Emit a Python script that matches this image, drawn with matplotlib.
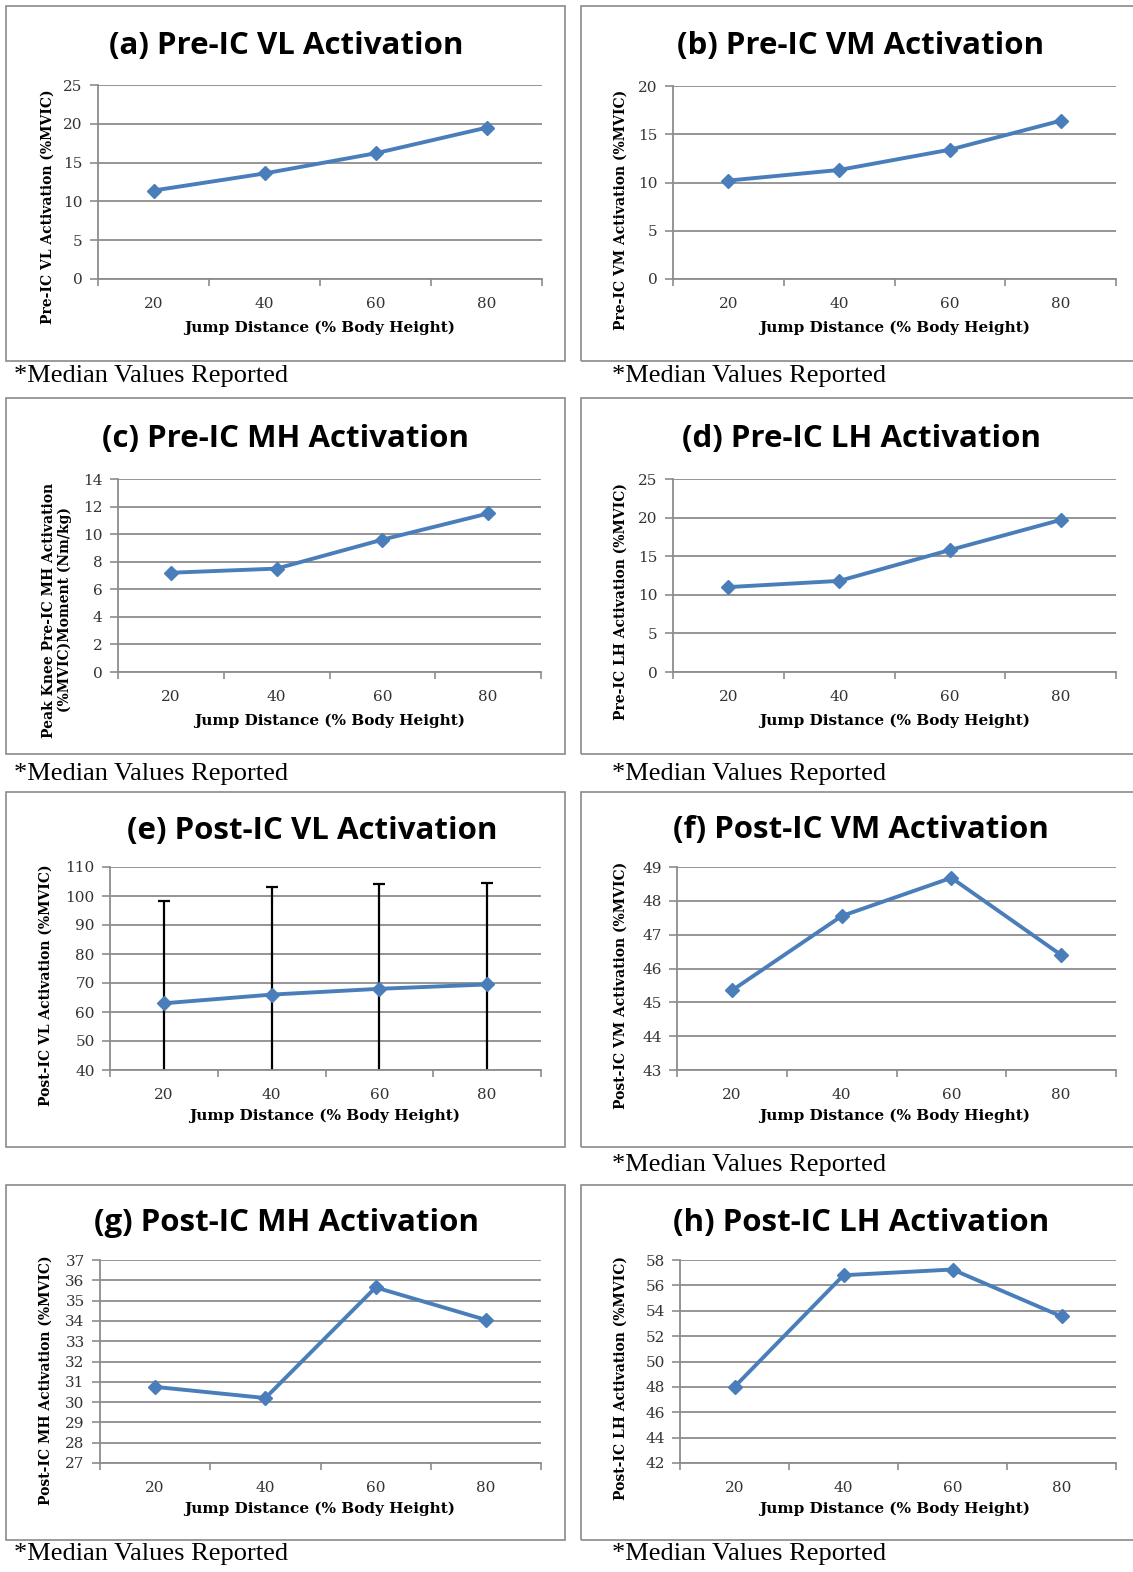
import matplotlib
matplotlib.use("Agg")
import matplotlib.pyplot as plt
from matplotlib.patches import Rectangle
import numpy as np

# ---------------- data ----------------
jump_distance = ["20", "40", "60", "80"]
pre_vl = [11.4, 13.6, 16.2, 19.5]
pre_vm = [10.2, 11.3, 13.4, 16.4]
pre_mh = [7.2, 7.5, 9.6, 11.5]
pre_lh = [11.0, 11.8, 15.8, 19.7]
post_vl = [63.0, 66.0, 68.0, 69.5]
post_vl_err = [35.3, 37.0, 36.0, 35.0]
post_vm = [45.35, 47.55, 48.68, 46.4]
post_mh = [30.75, 30.2, 35.65, 34.05]
post_lh = [48.0, 56.8, 57.25, 53.55]

titles = ["(a) Pre-IC VL Activation", "(b) Pre-IC VM Activation",
          "(c) Pre-IC MH Activation", "(d) Pre-IC LH Activation",
          "(e) Post-IC VL Activation", "(f) Post-IC VM Activation",
          "(g) Post-IC MH Activation", "(h) Post-IC LH Activation"]
ylabels = ["Pre-IC VL Activation (%MVIC)", "Pre-IC VM Activation (%MVIC)",
           "Peak Knee Pre-IC MH Activation\n(%MVIC)Moment (Nm/kg)",
           "Pre-IC LH Activation (%MVIC)",
           "Post-IC VL Activation (%MVIC)", "Post-IC VM Activation (%MVIC)",
           "Post-IC MH Activation (%MVIC)", "Post-IC LH Activation (%MVIC)"]
xlabels = ["Jump Distance (% Body Height)"] * 5 + ["Jump Distance (% Body Hieght)"] + \
          ["Jump Distance (% Body Height)"] * 2
yticks_list = [np.arange(0, 26, 5), np.arange(0, 21, 5), np.arange(0, 15, 2),
               np.arange(0, 26, 5), np.arange(40, 111, 10), np.arange(43, 50, 1),
               np.arange(27, 38, 1), np.arange(42, 59, 2)]
series = [pre_vl, pre_vm, pre_mh, pre_lh, post_vl, post_vm, post_mh, post_lh]
caption = "*Median Values Reported"

# ---------------- layout (pixels) ----------------
W, H = 1133, 1572
fig = plt.figure(figsize=(W / 100, H / 100), dpi=100)
fig.patch.set_facecolor("white")

def fx(x):
    return x / W

def fy(y):
    return 1 - y / H

panels = [
    dict(box=(6, 6, 565, 361), ax=(98, 85, 542, 279), title=(286, 46), yl=(48, 207), xl=(320, 328)),
    dict(box=(581, 6, 1140, 361), ax=(673, 86, 1116, 279), title=(861, 46), yl=(621, 210), xl=(895, 328)),
    dict(box=(6, 398, 565, 754), ax=(118, 479, 541, 672), title=(286, 439), yl=(57, 610), xl=(330, 721)),
    dict(box=(581, 398, 1140, 754), ax=(673, 479, 1116, 672), title=(861, 439), yl=(621, 602), xl=(895, 721)),
    dict(box=(6, 792, 565, 1147), ax=(110, 867, 541, 1070), title=(312, 831), yl=(46, 985), xl=(325, 1116)),
    dict(box=(581, 792, 1140, 1147), ax=(677, 867, 1116, 1070), title=(861, 830), yl=(621, 985), xl=(895, 1116)),
    dict(box=(6, 1185, 565, 1540), ax=(100, 1260, 541, 1463), title=(286, 1223), yl=(46, 1380), xl=(320, 1509)),
    dict(box=(581, 1185, 1140, 1540), ax=(680, 1260, 1116, 1463), title=(861, 1223), yl=(621, 1378), xl=(895, 1509)),
]
captions = [(14, 376), (612, 376), (14, 774), (612, 774), (612, 1165), (14, 1554), (612, 1554)]

line_color = "#4a7ebb"
grid_color = "#8c8c8c"
tick_font = "DejaVu Serif"
label_font = "DejaVu Serif"
title_font = ["Open Sans", "DejaVu Sans"]

for i, p in enumerate(panels):
    x0, y0, x1, y1 = p["box"]
    fig.add_artist(Rectangle((fx(x0), fy(y1)), fx(x1 - x0), (y1 - y0) / H,
                             transform=fig.transFigure, fill=False,
                             edgecolor="#8a8a8a", linewidth=1.2))
    l, t, r, b = p["ax"]
    ax = fig.add_axes([fx(l), fy(b), fx(r - l), (b - t) / H])
    xs = np.arange(len(jump_distance))
    yt = yticks_list[i]
    ax.set_xlim(-0.5, len(jump_distance) - 0.5)
    ax.set_ylim(yt[0], yt[-1])
    ax.set_yticks(yt)
    ax.set_yticklabels([str(v) for v in yt], fontfamily=tick_font, fontsize=11, color="#333333")
    ax.set_xticks(xs)
    ax.set_xticklabels(jump_distance, fontfamily=tick_font, fontsize=11, color="#333333")
    ax.set_xticks(np.arange(-0.5, len(jump_distance), 1.0), minor=True)
    ax.tick_params(axis="x", which="major", length=0, pad=13)
    ax.tick_params(axis="x", which="minor", length=5, width=1.2, color=grid_color, direction="out")
    ax.tick_params(axis="y", which="major", length=6, width=1.2, color=grid_color, direction="out", pad=5)
    for s in ["top", "right"]:
        ax.spines[s].set_visible(False)
    for s in ["left", "bottom"]:
        ax.spines[s].set_color(grid_color)
        ax.spines[s].set_linewidth(1.3)
    ax.yaxis.grid(True, color=grid_color, linewidth=1.3)
    ax.set_axisbelow(True)
    if i == 4:
        ax.errorbar(xs, series[i], yerr=post_vl_err, fmt="none", ecolor="black",
                    elinewidth=1.6, capsize=4, capthick=1.6, zorder=2)
    ax.plot(xs, series[i], color=line_color, linewidth=2.8, marker="D",
            markersize=7.5, markerfacecolor=line_color, markeredgecolor=line_color, zorder=3,
            clip_on=False)

    tx, ty = p["title"]
    fig.text(fx(tx), fy(ty), titles[i], ha="center", va="center",
             fontfamily=title_font, fontweight="bold", fontsize=22.5, color="black")
    lx, ly = p["yl"]
    fig.text(fx(lx), fy(ly), ylabels[i], ha="center", va="center", rotation=90,
             fontfamily=label_font, fontweight="bold", fontsize=10, color="black",
             linespacing=1.1)
    xx, xy = p["xl"]
    fig.text(fx(xx), fy(xy), xlabels[i], ha="center", va="center",
             fontfamily=label_font, fontweight="bold", fontsize=11, color="black")

for cx, cy in captions:
    fig.text(fx(cx), fy(cy), caption, ha="left", va="center",
             fontfamily="Liberation Serif", fontsize=19, color="black")

fig.savefig("out.png", dpi=100, facecolor="white")
